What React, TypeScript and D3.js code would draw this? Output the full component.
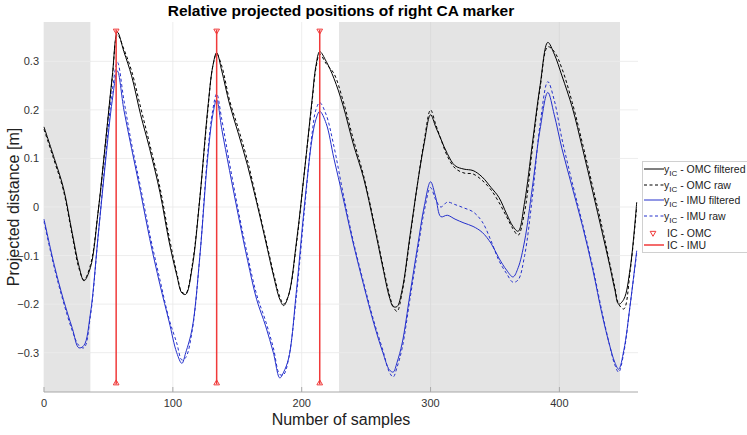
import { useMemo } from "react";
import * as d3 from "d3";

// sample index grid shared by every series
const samples = [
  0, 8, 15, 22, 27, 31, 36, 42, 48, 53, 57, 62, 68, 75, 82, 90, 97, 103, 107, 110,
  115, 121, 127, 131, 134, 138, 144, 151, 158, 165, 172, 178, 183, 186, 190, 196, 202, 208, 211, 214,
  219, 225, 232, 240, 248, 256, 263, 268, 271, 274, 278, 284, 290, 295, 300, 304, 308, 313, 319, 326,
  333, 340, 347, 353, 359, 364, 368, 373, 379, 385, 391, 396, 402, 410, 418, 426, 433, 439, 443, 446,
  450, 455, 460,
];

const omcFiltered = [
  0.165, 0.1, 0.04, -0.055, -0.12, -0.152, -0.125, -0.01, 0.14, 0.27, 0.36, 0.32, 0.27, 0.19, 0.12, 0.03, -0.07, -0.14, -0.177, -0.18,
  -0.125, 0.02, 0.2, 0.29, 0.318, 0.28, 0.212, 0.15, 0.085, 0.01, -0.07, -0.14, -0.19, -0.203, -0.18, -0.07, 0.07, 0.22, 0.29, 0.32,
  0.3, 0.265, 0.21, 0.13, 0.06, -0.035, -0.125, -0.185, -0.205, -0.205, -0.17, -0.06, 0.05, 0.13, 0.19, 0.165, 0.14, 0.11, 0.085, 0.078,
  0.075, 0.062, 0.04, 0.02, -0.014, -0.04, -0.05, 0.01, 0.13, 0.25, 0.339, 0.315, 0.27, 0.205, 0.12, 0.03, -0.05, -0.12, -0.17, -0.2,
  -0.19, -0.125, 0.01,
];

const omcRaw = [
  0.16, 0.095, 0.035, -0.06, -0.125, -0.15, -0.12, -0.01, 0.14, 0.265, 0.355, 0.325, 0.28, 0.205, 0.13, 0.04, -0.06, -0.135, -0.175, -0.178,
  -0.12, 0.02, 0.195, 0.29, 0.315, 0.29, 0.22, 0.16, 0.095, 0.015, -0.065, -0.135, -0.185, -0.2, -0.18, -0.075, 0.07, 0.215, 0.285, 0.315,
  0.295, 0.275, 0.22, 0.14, 0.065, -0.03, -0.12, -0.18, -0.205, -0.215, -0.175, -0.065, 0.05, 0.135, 0.2, 0.17, 0.14, 0.105, 0.08, 0.07,
  0.068, 0.055, 0.035, 0.01, -0.02, -0.045, -0.058, -0.01, 0.12, 0.245, 0.33, 0.32, 0.285, 0.215, 0.13, 0.04, -0.04, -0.115, -0.165, -0.2,
  -0.21, -0.13, 0.0,
];

const imuFiltered = [
  -0.025, -0.12, -0.19, -0.25, -0.29, -0.285, -0.22, -0.06, 0.1, 0.22, 0.28, 0.2, 0.12, 0.03, -0.065, -0.16, -0.235, -0.3, -0.322, -0.3,
  -0.25, -0.1, 0.1, 0.19, 0.221, 0.16, 0.075, -0.02, -0.11, -0.19, -0.245, -0.3, -0.352, -0.34, -0.31, -0.17, 0.0, 0.14, 0.18, 0.197,
  0.172, 0.1, 0.02, -0.075, -0.16, -0.24, -0.3, -0.335, -0.34, -0.32, -0.28, -0.18, -0.08, 0.0, 0.052, 0.02, -0.02, -0.017, -0.025, -0.033,
  -0.04, -0.052, -0.075, -0.105, -0.13, -0.144, -0.125, -0.07, 0.04, 0.16, 0.236, 0.19, 0.12, 0.04, -0.04, -0.13, -0.22, -0.285, -0.32, -0.334,
  -0.295, -0.2, -0.09,
];

const imuRaw = [
  -0.03, -0.125, -0.195, -0.255, -0.285, -0.29, -0.225, -0.06, 0.11, 0.24, 0.298, 0.22, 0.13, 0.04, -0.055, -0.15, -0.23, -0.28, -0.315, -0.31,
  -0.255, -0.1, 0.11, 0.2, 0.233, 0.18, 0.09, -0.01, -0.1, -0.18, -0.235, -0.29, -0.345, -0.345, -0.31, -0.18, -0.01, 0.15, 0.2, 0.215,
  0.19, 0.125, 0.03, -0.07, -0.155, -0.235, -0.295, -0.34, -0.35, -0.33, -0.29, -0.19, -0.09, -0.01, 0.04, 0.015, 0.0, 0.01, 0.005, -0.002,
  -0.01, -0.03, -0.07, -0.11, -0.137, -0.155, -0.15, -0.1, 0.02, 0.17, 0.258, 0.22, 0.14, 0.05, -0.035, -0.125, -0.215, -0.285, -0.325, -0.34,
  -0.3, -0.2, -0.095,
];

// initial contact events (sample index)
const icEvents = [56, 134, 214];
const icTop = 0.365;
const icBottom = -0.365;

// shaded spans
const shadedSpans = [
  [0, 36],
  [229, 447],
];

const xTicks = [0, 100, 200, 300, 400];
const yTicks = [-0.3, -0.2, -0.1, 0, 0.1, 0.2, 0.3];

const W = 747;
const H = 435;
const margin = { left: 44, right: 109, top: 22, bottom: 43 };
const font = "'Liberation Sans', Arial, Helvetica, sans-serif";
const blue = "#2430cc";
const red = "#f03a3a";

const legendItems = [
  { kind: "line", color: "#000", dash: null, text: " - OMC filtered", y: 169 },
  { kind: "line", color: "#000", dash: "3,2.5", text: " - OMC raw", y: 185 },
  { kind: "line", color: blue, dash: null, text: " - IMU filtered", y: 200 },
  { kind: "line", color: blue, dash: "3,2.5", text: " - IMU raw", y: 216 },
  { kind: "tri", color: red, dash: null, text: "IC - OMC", y: 233 },
  { kind: "red", color: red, dash: null, text: "IC - IMU", y: 245 },
];

export default function App() {
  const x = useMemo(
    () => d3.scaleLinear().domain([0, 461]).range([margin.left, W - margin.right]),
    []
  );
  const y = useMemo(
    () => d3.scaleLinear().domain([-0.381, 0.381]).range([H - margin.bottom, margin.top]),
    []
  );

  const line = d3
    .line<number>()
    .x((_, i) => x(samples[i]))
    .y((d) => y(d))
    .curve(d3.curveCatmullRom.alpha(0.5));

  const tri = d3.symbol(d3.symbolTriangle, 14)() || "";

  const x0 = x.range()[0];
  const x1 = x.range()[1];
  const y0 = y.range()[0];
  const y1 = y.range()[1];

  return (
    <div style={{ position: "absolute", left: 0, top: 0 }}>
      <svg width={W} height={H} style={{ display: "block", background: "#fff" }} fontFamily={font}>
        {/* grid */}
        {xTicks.map((t) => (
          <line key={"gx" + t} x1={x(t)} x2={x(t)} y1={y0} y2={y1} stroke="#e9e9e9" strokeWidth={0.8} />
        ))}
        {yTicks.map((t) => (
          <line key={"gy" + t} x1={x0} x2={x1} y1={y(t)} y2={y(t)} stroke="#e9e9e9" strokeWidth={0.8} />
        ))}

        {/* shaded spans */}
        {shadedSpans.map(([a, b]) => (
          <rect key={"s" + a} x={x(a)} y={y1} width={x(b) - x(a)} height={y0 - y1} fill="#e4e4e4" />
        ))}
        {/* grid over shading, lighter */}
        {shadedSpans.map(([a, b]) => (
          <g key={"sg" + a}>
            {yTicks.map((t) => (
              <line key={t} x1={x(a)} x2={x(b)} y1={y(t)} y2={y(t)} stroke="#ececec" strokeWidth={0.8} />
            ))}
            {xTicks
              .filter((t) => t > a && t < b)
              .map((t) => (
                <line key={"v" + t} x1={x(t)} x2={x(t)} y1={y0} y2={y1} stroke="#d9d9d9" strokeWidth={0.8} />
              ))}
          </g>
        ))}

        {/* axes */}
        <line x1={x0} x2={x1} y1={y0} y2={y0} stroke="#a8a8a8" strokeWidth={1} />
        {xTicks.map((t) => (
          <g key={"xt" + t}>
            <line x1={x(t)} x2={x(t)} y1={y0} y2={y0 - 5} stroke="#a8a8a8" />
            <text x={x(t)} y={y0 + 15} textAnchor="middle" fontSize={11} fill="#333">
              {t}
            </text>
          </g>
        ))}
        {yTicks.map((t) => (
          <text key={"yt" + t} x={x0 - 5} y={y(t) + 4} textAnchor="end" fontSize={11} fill="#333">
            {t === 0 ? "0" : d3.format(".1f")(t)}
          </text>
        ))}

        {/* series */}
        <path d={line(omcRaw) || ""} fill="none" stroke="#000" strokeWidth={1} strokeDasharray="3,2.5" />
        <path d={line(omcFiltered) || ""} fill="none" stroke="#000" strokeWidth={1} />
        <path d={line(imuRaw) || ""} fill="none" stroke={blue} strokeWidth={1} strokeDasharray="3,2.5" />
        <path d={line(imuFiltered) || ""} fill="none" stroke={blue} strokeWidth={1} />

        {/* IC events */}
        {icEvents.map((e) => (
          <g key={"ic" + e}>
            <line x1={x(e)} x2={x(e)} y1={y(icTop)} y2={y(icBottom)} stroke={red} strokeWidth={1.5} />
            <path d={tri} transform={`translate(${x(e)},${y(icTop) + 1}) rotate(180)`} fill="none" stroke={red} strokeWidth={1} />
            <path d={tri} transform={`translate(${x(e)},${y(icBottom) - 1})`} fill="none" stroke={red} strokeWidth={1} />
          </g>
        ))}

        {/* title and labels */}
        <text x={(x0 + x1) / 2} y={16} textAnchor="middle" fontSize={15.5} fontWeight="bold" fill="#000">
          Relative projected positions of right CA marker
        </text>
        <text x={(x0 + x1) / 2} y={425} textAnchor="middle" fontSize={16} fill="#222">
          Number of samples
        </text>
        <text
          transform={`translate(19,${(y0 + y1) / 2}) rotate(-90)`}
          textAnchor="middle"
          fontSize={16}
          fill="#222"
        >
          Projected distance [m]
        </text>

        {/* legend */}
        <rect x={642.5} y={161.5} width={110} height={91} fill="#fff" stroke="#d0d0d0" strokeWidth={1} />
        {legendItems.map((it) => (
          <g key={it.text}>
            {it.kind === "tri" ? (
              <path d={tri} transform={`translate(653,${it.y}) rotate(180)`} fill="none" stroke={red} strokeWidth={1} />
            ) : (
              <line
                x1={644}
                x2={664}
                y1={it.y}
                y2={it.y}
                stroke={it.color}
                strokeWidth={it.kind === "red" ? 1.5 : 1}
                strokeDasharray={it.dash || undefined}
              />
            )}
            {it.kind === "line" ? (
              <text x={664} y={it.y + 3.5} fontSize={10.5} fill="#222">
                y<tspan fontSize={8} dy={3}>IC</tspan>
                <tspan dy={-3}>{it.text}</tspan>
              </text>
            ) : (
              <text x={667} y={it.y + 3.5} fontSize={10.5} fill="#222">
                {it.text}
              </text>
            )}
          </g>
        ))}
      </svg>
    </div>
  );
}
